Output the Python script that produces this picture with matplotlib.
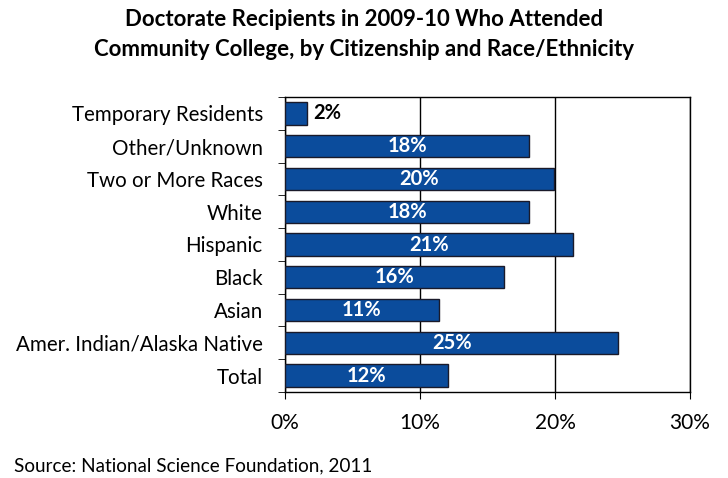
import matplotlib.pyplot as plt
import numpy as np

categories = ['Temporary Residents', 'Other/Unknown', 'Two or More Races', 'White',
              'Hispanic', 'Black', 'Asian', 'Amer. Indian/Alaska Native', 'Total']
values = [1.6, 18.1, 19.9, 18.1, 21.3, 16.2, 11.4, 24.7, 12.1]
labels = ['2%', '18%', '20%', '18%', '21%', '16%', '11%', '25%', '12%']
xticks = [0, 10, 20, 30]

plt.rcParams['font.family'] = ['Lato', 'DejaVu Sans']

fig = plt.figure(figsize=(7.28, 4.78), dpi=100)
ax = fig.add_axes([285 / 728, 1 - 392 / 478, 405 / 728, 295 / 478])

y = np.arange(len(categories))
ax.barh(y, values, height=0.68, color='#0b4c9c', edgecolor='#1a1a2a', linewidth=1, zorder=3)

# value labels: inside the bar in white, outside in black when the bar is too short
for yi, v, lab in zip(y, values, labels):
    if v < 5:
        ax.text(v + 0.5, yi, lab, ha='left', va='center', fontsize=14.5,
                fontweight='bold', color='black', zorder=4)
    else:
        ax.text(v / 2, yi, lab, ha='center', va='center', fontsize=14.5,
                fontweight='bold', color='white', zorder=4)

ax.set_xlim(0, 30)
ax.set_ylim(len(categories) - 0.5, -0.5)
ax.set_xticks(xticks)
ax.set_xticklabels([f'{t}%' for t in xticks], fontsize=15)
ax.set_yticks(y)
ax.set_yticklabels(categories, fontsize=14.8)
ax.set_yticks(np.arange(len(categories) + 1) - 0.5, minor=True)
ax.tick_params(axis='y', which='major', length=0, pad=16)
ax.tick_params(axis='y', which='minor', length=5, direction='out')
ax.tick_params(axis='x', length=5, direction='out', pad=10)
ax.xaxis.grid(True, color='black', linewidth=1, zorder=0)
for s in ax.spines.values():
    s.set_linewidth(1)

fig.text(0.5, 1 - 20 / 478, 'Doctorate Recipients in 2009-10 Who Attended',
         ha='center', va='center', fontsize=16, fontweight='bold')
fig.text(0.5, 1 - 49 / 478, 'Community College, by Citizenship and Race/Ethnicity',
         ha='center', va='center', fontsize=16, fontweight='bold')
fig.text(14 / 728, 1 - 466 / 478, 'Source: National Science Foundation, 2011',
         ha='left', va='center', fontsize=13.6)

fig.savefig('out.png', dpi=100, facecolor='white')
